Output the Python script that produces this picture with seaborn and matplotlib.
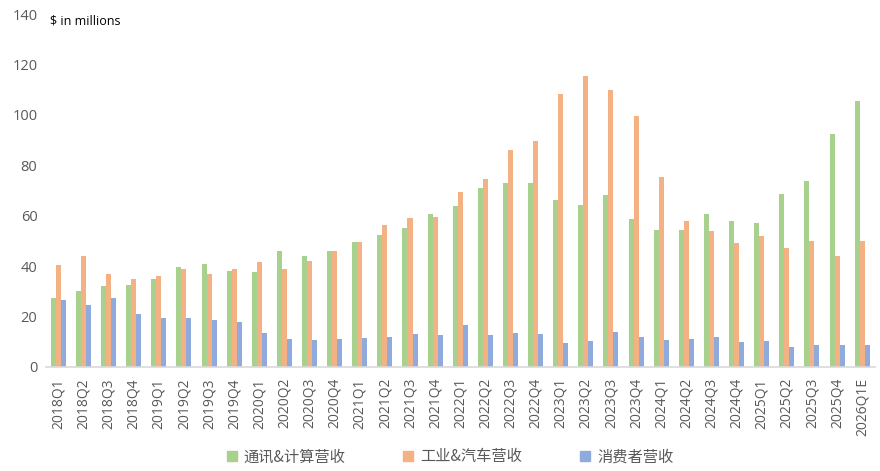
import matplotlib
matplotlib.use('Agg')
import matplotlib.pyplot as plt
from matplotlib.lines import Line2D
import seaborn as sns
import pandas as pd

# 数据 (单位: 百万美元)
quarters = ['2018Q1', '2018Q2', '2018Q3', '2018Q4',
            '2019Q1', '2019Q2', '2019Q3', '2019Q4',
            '2020Q1', '2020Q2', '2020Q3', '2020Q4',
            '2021Q1', '2021Q2', '2021Q3', '2021Q4',
            '2022Q1', '2022Q2', '2022Q3', '2022Q4',
            '2023Q1', '2023Q2', '2023Q3', '2023Q4',
            '2024Q1', '2024Q2', '2024Q3', '2024Q4',
            '2025Q1', '2025Q2', '2025Q3', '2025Q4', '2026Q1E']

comm = [27.5, 30, 32, 32.5, 35, 39.5, 41, 38, 37.5, 46, 44, 46,
        49.5, 52.5, 55, 60.5, 64, 71, 73, 73, 66.3, 64.3, 68.3, 58.7,
        54.4, 54.4, 60.7, 57.9, 57.1, 68.7, 73.8, 92.5, 105.6]
indu = [40.5, 44, 37, 35, 36, 38.8, 37, 38.8, 41.5, 39, 42, 46,
        49.5, 56.5, 59, 59.5, 69.5, 74.5, 86, 89.5, 108.3, 115.5, 110, 99.6,
        75.4, 57.9, 54, 49.2, 52, 47.2, 50, 44, 50]
cons = [26.5, 24.5, 27.5, 21, 19.5, 19.5, 18.5, 18, 13.5, 11, 10.5, 11,
        11.5, 12, 13, 12.5, 16.5, 12.5, 13.5, 13.1, 9.5, 10.3, 13.9, 11.9,
        10.7, 11.1, 11.9, 9.9, 10.3, 7.9, 8.7, 8.7, 8.7]

series = ['通讯&计算营收', '工业&汽车营收', '消费者营收']
colors = ['#A9D18E', '#F4B183', '#8FAADC']

df = pd.DataFrame({
    'quarter': quarters * 3,
    'value': comm + indu + cons,
    'series': [series[0]] * len(quarters) + [series[1]] * len(quarters) + [series[2]] * len(quarters),
})

sns.set_style('white')
plt.rcParams['font.family'] = ['Open Sans', 'Noto Sans CJK SC', 'DejaVu Sans']

fig = plt.figure(figsize=(8.8, 4.71), dpi=100)
ax = fig.add_axes([0.052, 0.221, 0.942, 0.749])

sns.barplot(data=df, x='quarter', y='value', hue='series', order=quarters,
            hue_order=series, palette=colors, width=0.6, saturation=1,
            linewidth=0, legend=False, ax=ax)

ax.set_xlim(-0.5, len(quarters) - 0.5)
ax.set_ylim(0, 140)
ax.set_yticks(range(0, 141, 20))
ax.set_xlabel('')
ax.set_ylabel('')

for s in ['top', 'right', 'left']:
    ax.spines[s].set_visible(False)
ax.spines['bottom'].set_color('#D9D9D9')
ax.spines['bottom'].set_linewidth(1.2)

ax.tick_params(axis='x', length=0, labelsize=10, labelcolor='#595959', rotation=90, pad=8)
ax.tick_params(axis='y', length=0, labelsize=10.5, labelcolor='#595959', pad=6)

ax.text(0.005, 1.0, '$ in millions', transform=ax.transAxes, fontsize=9,
        color='black', va='top', ha='left')

handles = [Line2D([], [], marker='s', linestyle='none', markersize=7,
                  markerfacecolor=c, markeredgecolor=c) for c in colors]
fig.legend(handles, series, loc='center', bbox_to_anchor=(0.51, 0.03), ncol=3,
           frameon=False, labelcolor='#595959',
           prop={'family': ['Noto Sans CJK SC'], 'size': 11},
           handletextpad=0.3, columnspacing=3.6, handlelength=1)

fig.savefig('out.png', dpi=100)
